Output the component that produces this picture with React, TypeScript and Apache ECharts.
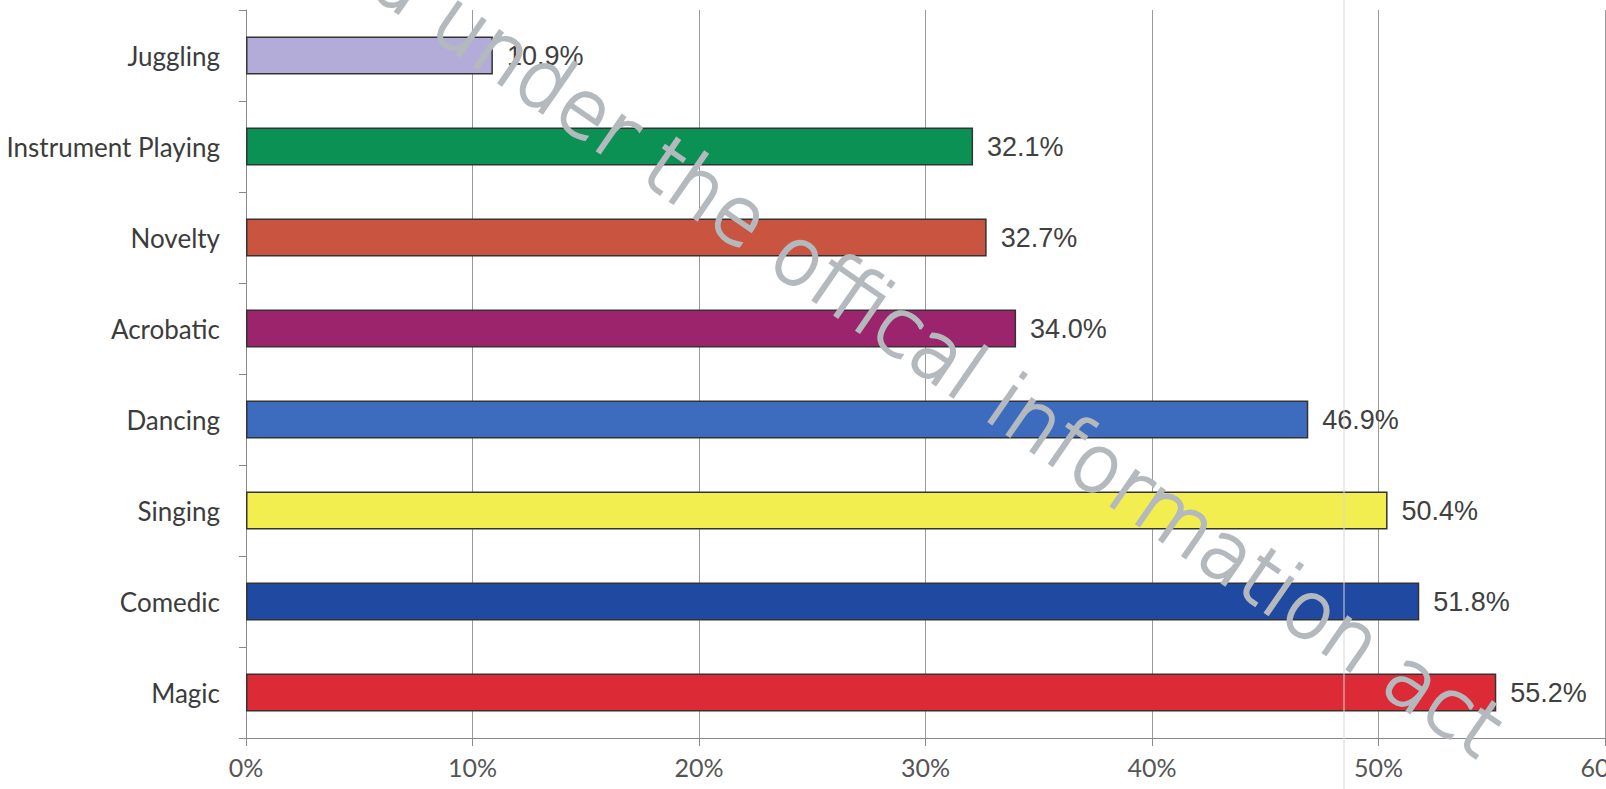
import React, { useEffect, useRef } from "react";
import * as echarts from "echarts";

const categories = [
  "Juggling",
  "Instrument Playing",
  "Novelty",
  "Acrobatic",
  "Dancing",
  "Singing",
  "Comedic",
  "Magic",
];
const values = [10.9, 32.1, 32.7, 34.0, 46.9, 50.4, 51.8, 55.2];
const barColors = [
  "#b3acd8",
  "#0b9153",
  "#c9543f",
  "#9b246c",
  "#3d6bbd",
  "#f3ee50",
  "#2049a2",
  "#dc2b36",
];
const xTicks = { min: 0, max: 60, interval: 10 };
const watermark = "Released under the offical information act";

export default function App() {
  const ref = useRef<HTMLDivElement>(null);
  useEffect(() => {
    document.body.style.margin = "0";
    const chart = echarts.init(ref.current!, null, { renderer: "svg" });
    chart.setOption({
      animation: false,
      backgroundColor: "#ffffff",
      grid: {
        left: 246,
        right: 1,
        top: 10,
        bottom: 51,
        containLabel: false,
        outerBoundsMode: "none",
      },
      xAxis: {
        type: "value",
        min: xTicks.min,
        max: xTicks.max,
        interval: xTicks.interval,
        axisLine: { show: true, lineStyle: { color: "#8a8a8a", width: 1 } },
        axisTick: { show: true, length: 8, lineStyle: { color: "#8a8a8a" } },
        splitLine: { show: true, lineStyle: { color: "#9a9a9a", width: 1 } },
        axisLabel: {
          formatter: "{value}%",
          fontFamily: "Lato",
          fontSize: 25,
          color: "#555555",
          margin: 16,
        },
      },
      yAxis: {
        type: "category",
        data: categories,
        inverse: true,
        axisLine: { show: true, lineStyle: { color: "#8a8a8a", width: 1 } },
        axisTick: { show: true, length: 7, lineStyle: { color: "#8a8a8a" } },
        splitLine: { show: false },
        axisLabel: {
          fontFamily: "Lato",
          fontSize: 26,
          color: "#3c3c3c",
          margin: 26,
        },
      },
      series: [
        {
          type: "bar",
          barWidth: 38,
          data: values.map((v, i) => ({
            value: v,
            itemStyle: { color: barColors[i], borderColor: "#333333", borderWidth: 1.5 },
          })),
          label: {
            show: true,
            position: "right",
            distance: 14,
            formatter: (p: any) => Number(p.value).toFixed(1) + "%",
            fontFamily: "Liberation Sans",
            fontSize: 27,
            color: "#404040",
          },
        },
      ],
      graphic: [
        {
          type: "line",
          silent: true,
          z: 50,
          shape: { x1: 1344, y1: 0, x2: 1344, y2: 789 },
          style: { stroke: "#d6d6d6", lineWidth: 1 },
        },
        {
          type: "text",
          silent: true,
          z: 100,
          x: 1494,
          y: 738,
          rotation: -0.605,
          style: {
            text: watermark,
            fontFamily: "DejaVu Sans",
            fontWeight: 200,
            fontSize: 79,
            fill: "#b4b9be",
            stroke: "#b4b9be",
            lineWidth: 2.5,
            align: "right",
            verticalAlign: "middle",
          },
        },
      ],
    });
    return () => chart.dispose();
  }, []);
  return (
    <div
      ref={ref}
      style={{ position: "absolute", left: 0, top: 0, width: 1606, height: 789 }}
    />
  );
}
